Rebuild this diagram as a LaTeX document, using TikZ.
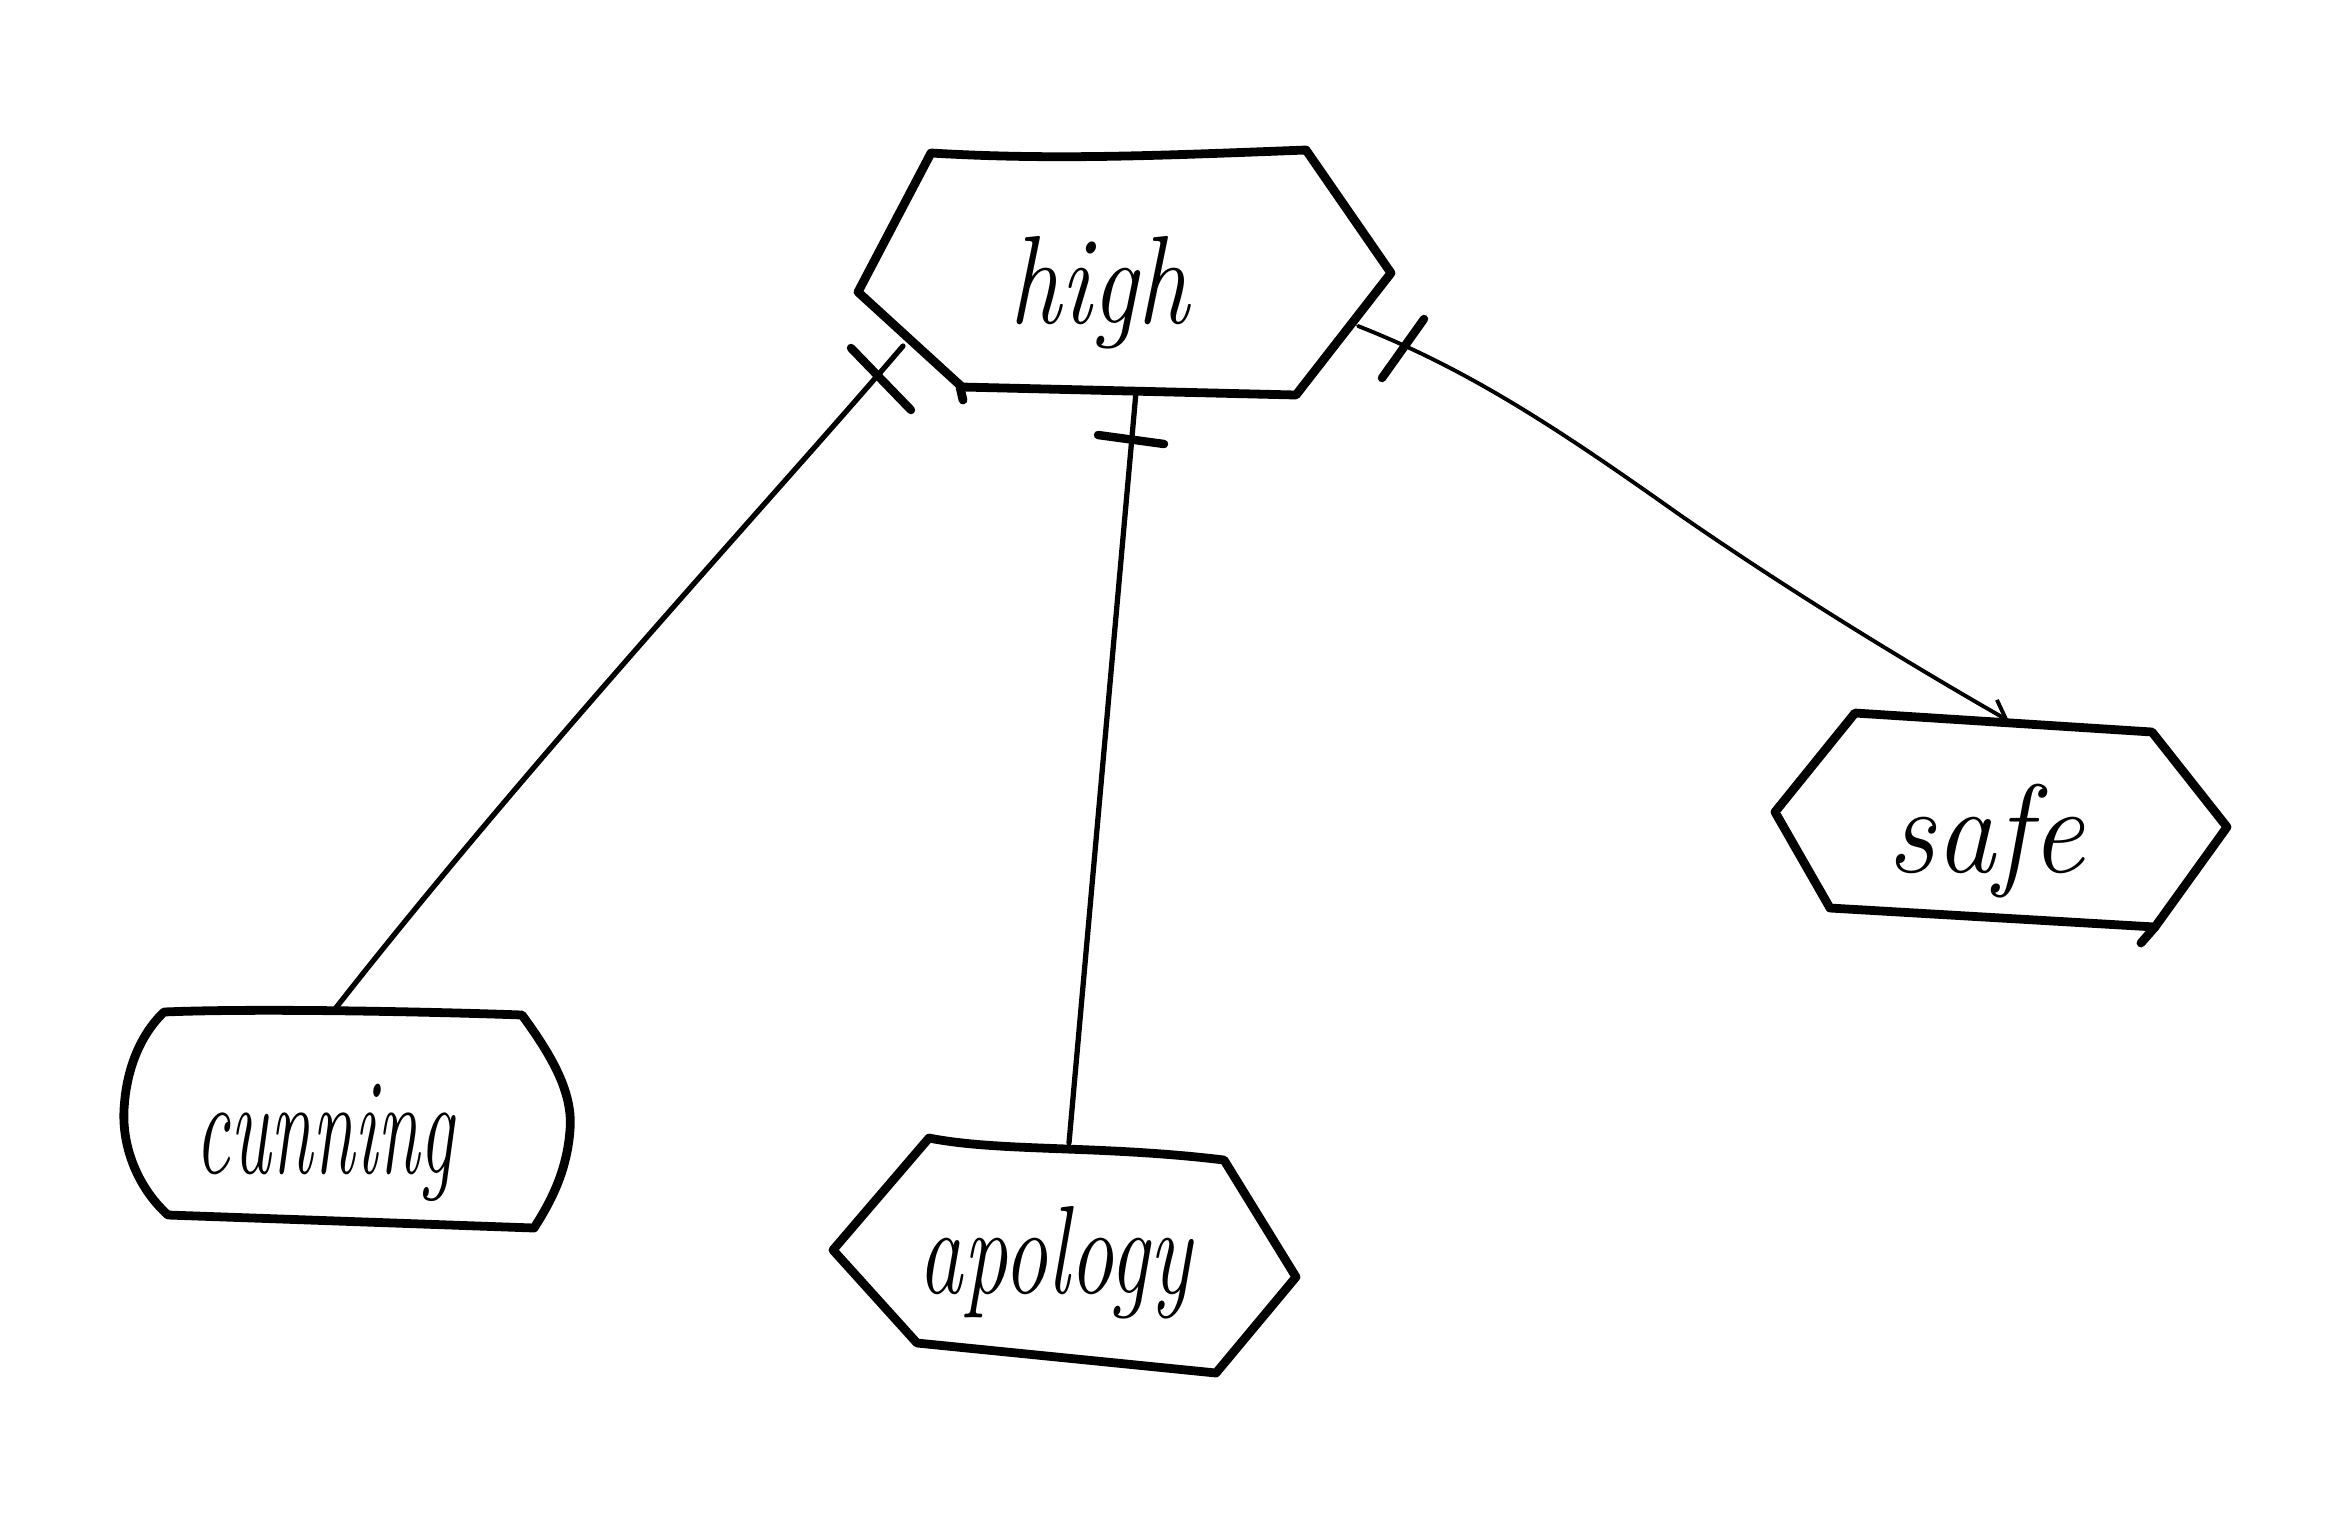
\documentclass[tikz,border=0pt]{standalone}
\usetikzlibrary{arrows.meta}
\begin{document}
\begin{tikzpicture}[x=0.01cm,y=-0.01cm,
  box/.style={line width=2.5pt, line join=round, line cap=round},
  conn/.style={line width=1.5pt, line cap=round},
  thinconn/.style={line width=1.1pt, line cap=round},
  tickmark/.style={line width=2.4pt, line cap=round},
  lbl/.style={font=\fontsize{34}{40}\selectfont\itshape, inner sep=0pt, anchor=base}]
\useasboundingbox[fill=white] (0,0) rectangle (2347,1520);

% ---- shapes ----
% high
\draw[box] (931,153) .. controls (1050,160) and (1150,156) .. (1306,150)
  -- (1391,273) -- (1296,395) -- (962,387) -- (858,292) -- cycle;
\draw[box] (960,387) -- (963,400);
% safe
\draw[box] (1855,713) -- (2152,732) -- (2227,827) -- (2155,927) -- (1830,908) -- (1775,812) -- cycle;
\draw[box] (2155,927) -- (2141,943);
% cunning
\draw[box] (164,1012) .. controls (260,1008) and (440,1012) .. (522,1015)
  .. controls (555,1060) and (573,1095) .. (570,1130)
  .. controls (567,1170) and (552,1200) .. (534,1228)
  -- (168,1215)
  .. controls (140,1190) and (122,1150) .. (124,1110)
  .. controls (126,1070) and (140,1035) .. cycle;
% apology
\draw[box] (929,1138) .. controls (1000,1152) and (1100,1145) .. (1224,1160)
  -- (1296,1277) -- (1216,1373) -- (917,1343) -- (833,1250) -- cycle;

% ---- labels ----
\node[lbl] (high)    at (1099,323)  {\scalebox{0.86}[1.05]{high}};
\node[lbl] (cunning) at (325,1173)  {\scalebox{0.64}[1.15]{cunning}};
\node[lbl] (apology) at (1055,1293) {\scalebox{0.74}[1.05]{apology}};
\node[lbl] (safe)    at (1986,872)  {\scalebox{1.0}[1.05]{safe}};

% ---- connection points ----
\coordinate (hi-sw) at (903,346);
\coordinate (hi-s)  at (1136,392);
\coordinate (hi-e)  at (1358,326);
\coordinate (cu-n)  at (335,1009);
\coordinate (ap-n)  at (1069,1143);
\coordinate (sf-n)  at (2009,721);

% ---- connectors ----
\draw[conn] (hi-sw) .. controls (780,490) and (530,760) .. (cu-n);
\draw[conn] (hi-s) -- (ap-n);
\draw[thinconn, -{Straight Barb[length=5pt,width=7pt]}] (hi-e)
  .. controls (1470,370) and (1560,430) .. (1680,515)
  .. controls (1800,598) and (1920,670) .. (sf-n);

% ---- ticks ----
\draw[tickmark] (851,348) -- (911,410);
\draw[tickmark] (1098,435) -- (1164,444);
\draw[tickmark] (1424,319) -- (1382,378);
\end{tikzpicture}
\end{document}
